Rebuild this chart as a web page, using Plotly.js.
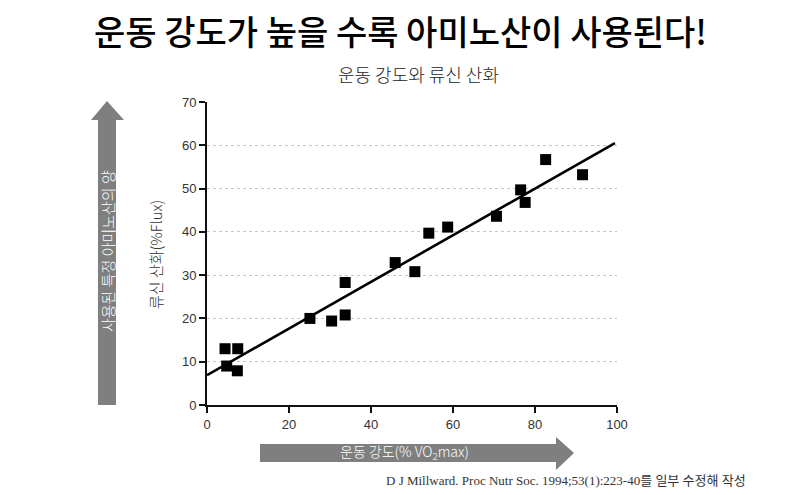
<!DOCTYPE html>
<html>
<head>
<meta charset="utf-8">
<script src="https://cdn.plot.ly/plotly-3.0.1.min.js"></script>
<style>
  html, body { margin: 0; padding: 0; background: #fff; }
  #chart { width: 800px; height: 495px; }
</style>
</head>
<body>
<div id="chart"></div>
<script>
// --- Data ---
const intensity = [4.4, 7.5, 4.8, 7.4, 25.1, 30.4, 33.7, 33.7, 45.9, 50.7, 54.1, 58.7, 70.6, 76.5, 77.6, 82.6, 91.6];
const leucineOx = [13.0, 13.0, 9.0, 7.9, 20.0, 19.4, 28.3, 20.8, 32.9, 30.8, 39.7, 41.1, 43.6, 49.7, 46.8, 56.7, 53.2];
const fitX = [0, 99.5];
const fitY = [6.9, 60.5];
const yTicks = [0, 10, 20, 30, 40, 50, 60, 70];
const xTicks = [0, 20, 40, 60, 80, 100];

const KR = '"Noto Sans CJK KR", "Noto Sans", sans-serif';
const GREY = '#7f7f7f';

// plot area in pixels
const L = 207, R = 617, T = 102, B = 405;
function px(x) { return (x - L) / (R - L); }
function py(y) { return (B - y) / (B - T); }
function path(pts) {
  return 'M' + pts.map(p => px(p[0]).toFixed(4) + ',' + py(p[1]).toFixed(4)).join(' L') + ' Z';
}

const upArrow = path([[98, 405], [98, 120], [91, 120], [107, 101], [124, 120], [116, 120], [116, 405]]);
const rightArrow = path([[260, 444], [556, 444], [556, 437], [574, 453], [556, 470], [556, 462], [260, 462]]);

const points = {
  x: intensity, y: leucineOx,
  mode: 'markers', type: 'scatter',
  marker: { symbol: 'square', size: 11, color: '#000' },
  hoverinfo: 'x+y'
};

const fit = {
  x: fitX, y: fitY,
  mode: 'lines', type: 'scatter',
  line: { color: '#000', width: 2.6 },
  hoverinfo: 'skip'
};

const layout = {
  width: 800, height: 495,
  margin: { l: L, r: 800 - R, t: T, b: 495 - B },
  paper_bgcolor: '#fff', plot_bgcolor: '#fff',
  showlegend: false,
  font: { family: 'Liberation Sans, Arial, sans-serif', color: '#333' },
  xaxis: {
    range: [0, 100], tickvals: xTicks,
    showgrid: false, zeroline: false,
    showline: true, linecolor: '#111', linewidth: 2,
    ticks: 'outside', ticklen: 6, tickwidth: 2, tickcolor: '#111',
    tickfont: { size: 13, color: '#333' }
  },
  yaxis: {
    range: [0, 70], tickvals: yTicks,
    showgrid: true, gridcolor: '#c8c8c8', griddash: 'dot', gridwidth: 1.2,
    zeroline: false,
    showline: true, linecolor: '#111', linewidth: 2,
    ticks: 'outside', ticklen: 6, tickwidth: 2, tickcolor: '#111',
    tickfont: { size: 13, color: '#333' }
  },
  shapes: [
    { type: 'path', xref: 'paper', yref: 'paper', path: upArrow, fillcolor: GREY, line: { width: 0 }, layer: 'below' },
    { type: 'path', xref: 'paper', yref: 'paper', path: rightArrow, fillcolor: GREY, line: { width: 0 }, layer: 'below' }
  ],
  annotations: [
    { text: '운동 강도가 높을 수록 아미노산이 사용된다!', xref: 'paper', yref: 'paper',
      x: px(400), y: py(31), showarrow: false, xanchor: 'center', yanchor: 'middle',
      font: { family: KR, size: 34, color: '#000', weight: 500 } },
    { text: '운동 강도와 류신 산화', xref: 'paper', yref: 'paper',
      x: px(418), y: py(74), showarrow: false, xanchor: 'center', yanchor: 'middle',
      font: { family: KR, size: 18, color: '#222', weight: 300 } },
    { text: '류신 산화(%Flux)', xref: 'paper', yref: 'paper',
      x: px(155), y: py(255), showarrow: false, textangle: -90, xanchor: 'center', yanchor: 'middle',
      font: { family: KR, size: 15, color: '#333', weight: 300 } },
    { text: '사용된 특정 아미노산의 양', xref: 'paper', yref: 'paper',
      x: px(107), y: py(251), showarrow: false, textangle: -90, xanchor: 'center', yanchor: 'middle',
      font: { family: KR, size: 15, color: '#fff', weight: 300 } },
    { text: '운동 강도(% VO<sub>2</sub>max)', xref: 'paper', yref: 'paper',
      x: px(404), y: py(452), showarrow: false, xanchor: 'center', yanchor: 'middle',
      font: { family: KR, size: 14, color: '#fff', weight: 300 } },
    { text: 'D J Millward. Proc Nutr Soc. 1994;53(1):223-40를 일부 수정해 작성', xref: 'paper', yref: 'paper',
      x: px(748), y: py(480), showarrow: false, xanchor: 'right', yanchor: 'middle',
      font: { family: '"Liberation Serif", "Noto Sans CJK KR", serif', size: 13, color: '#333' } }
  ]
};

Plotly.newPlot('chart', [fit, points], layout, { displayModeBar: false, staticPlot: true });
</script>
</body>
</html>
